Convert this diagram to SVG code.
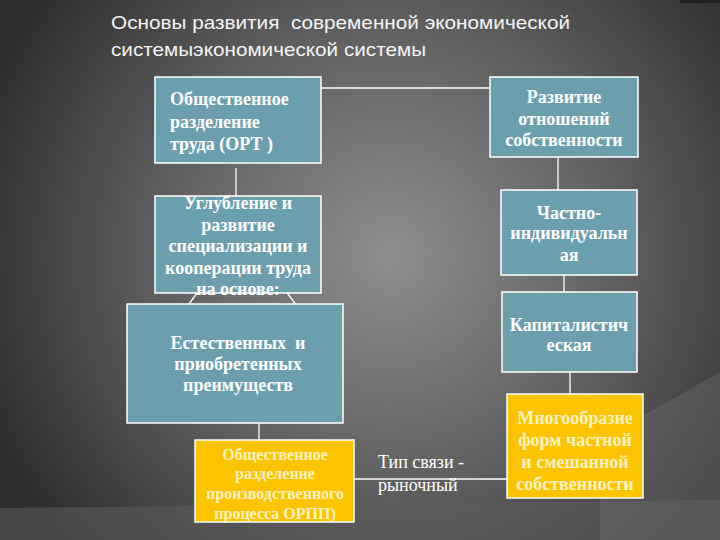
<svg xmlns="http://www.w3.org/2000/svg" width="720" height="540" viewBox="0 0 720 540">
<defs>
<radialGradient id="bg" cx="390" cy="255" r="430" gradientUnits="userSpaceOnUse">
<stop offset="0" stop-color="#8e8e8e"/>
<stop offset="0.55" stop-color="#5e5e5e"/>
<stop offset="1" stop-color="#2e2e2e"/>
</radialGradient>
<style>
.t{fill:#6b9fae;stroke:#ffffff;stroke-width:1.5}
.y{fill:#fcc400;stroke:#ffffff;stroke-width:1.5}
.bt{font-family:'Liberation Serif',serif;font-weight:bold;font-size:18px;fill:#ffffff}
.yt{font-family:'Liberation Serif',serif;font-weight:bold;fill:#fff2c4}
.c{text-anchor:middle}
.ln{stroke:#ffffff;stroke-width:1.3;fill:none}
</style>
</defs>
<rect width="720" height="540" fill="url(#bg)"/>
<polygon points="0,508 720,500 720,540 0,540" fill="#5c5c5c" opacity="0.55"/>
<polygon points="600,440 720,372 720,540 600,540" fill="#6a6a6a" opacity="0.45"/>
<polygon points="680,0 720,0 720,3 680,3" fill="#222"/>
<g id="title" font-family="Liberation Sans, sans-serif" font-size="19" fill="#f4f4f4">
<text x="111" y="29" textLength="459" lengthAdjust="spacingAndGlyphs" xml:space="preserve">Основы развития  современной экономической</text>
<text x="111" y="56" textLength="315" lengthAdjust="spacingAndGlyphs">системыэкономической системы</text>
</g>
<g id="connectors">
<line class="ln" x1="321" y1="88" x2="490" y2="88"/>
<line class="ln" x1="236" y1="168" x2="236" y2="196"/>
<line class="ln" x1="558" y1="157" x2="558" y2="191"/>
<line class="ln" x1="564" y1="275" x2="564" y2="292"/>
<line class="ln" x1="570" y1="372" x2="570" y2="394"/>
<line class="ln" x1="259" y1="423" x2="259" y2="440"/>
<line class="ln" x1="354" y1="479" x2="507" y2="479"/>
<line class="ln" x1="197" y1="293" x2="184" y2="311"/>
<line class="ln" x1="287" y1="293" x2="309" y2="321"/>
</g>
<g id="n1">
<rect class="t" x="155" y="77" width="166" height="86"/>
<text class="bt" x="170" y="105">Общественное</text>
<text class="bt" x="170" y="128">разделение</text>
<text class="bt" x="170" y="150">труда (ОРТ )</text>
</g>
<g id="n2">
<rect class="t" x="490" y="77" width="148" height="80"/>
<text class="bt c" x="564" y="103">Развитие</text>
<text class="bt c" x="564" y="125">отношений</text>
<text class="bt c" x="564" y="146">собственности</text>
</g>
<g id="n3">
<rect class="t" x="155" y="196" width="166" height="97"/>
<text class="bt c" x="238" y="209">Углубление и</text>
<text class="bt c" x="238" y="231">развитие</text>
<text class="bt c" x="238" y="252">специализации и</text>
<text class="bt c" x="238" y="274">кооперации труда</text>
<text class="bt c" x="238" y="295">на основе:</text>
</g>
<g id="n4">
<rect class="t" x="501" y="190" width="136" height="85"/>
<text class="bt c" x="569" y="219">Частно-</text>
<text class="bt c" x="569" y="239">индивидуальн</text>
<text class="bt c" x="569" y="261">ая</text>
</g>
<g id="n5">
<rect class="t" x="502" y="292" width="135" height="80"/>
<text class="bt c" x="569" y="331">Капиталистич</text>
<text class="bt c" x="569" y="351">еская</text>
</g>
<g id="n6">
<rect class="t" x="127" y="304" width="216" height="119"/>
<text class="bt c" x="238" y="349" xml:space="preserve">Естественных  и</text>
<text class="bt c" x="238" y="370">приобретенных</text>
<text class="bt c" x="238" y="391">преимуществ</text>
</g>
<g id="n7">
<rect class="y" x="195" y="440" width="159" height="82"/>
<text class="yt c" font-size="16" x="275" y="460">Общественное</text>
<text class="yt c" font-size="16" x="275" y="479">разделение</text>
<text class="yt c" font-size="16" x="275" y="499">производственного</text>
<text class="yt c" font-size="16" x="275" y="519">процесса ОРПП)</text>
</g>
<g id="n8">
<rect class="y" x="507" y="394" width="136" height="104"/>
<text class="yt c" font-size="18" x="575" y="424">Многообразие</text>
<text class="yt c" font-size="18" x="575" y="446">форм частной</text>
<text class="yt c" font-size="18" x="575" y="468">и смешанной</text>
<text class="yt c" font-size="18" x="575" y="490">собственности</text>
</g>
<g id="label" font-family="Liberation Serif, serif" font-size="18" fill="#ffffff">
<text x="378" y="468">Тип связи -</text>
<text x="378" y="491">рыночный</text>
</g>
</svg>
